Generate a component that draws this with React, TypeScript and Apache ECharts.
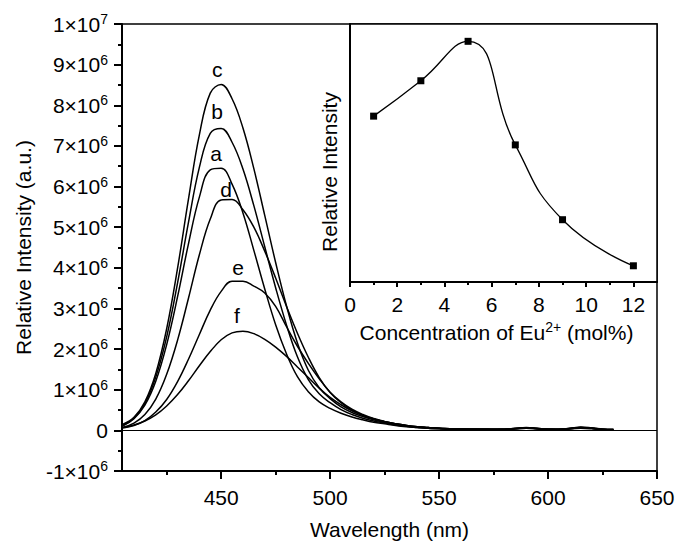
import React, { useEffect, useRef } from "react";
import * as echarts from "echarts";

// ---- Data (intensity in units of 10^6) ----
const wavelengths = [
  405, 410, 415, 420, 425, 430, 435, 440, 445, 450, 455, 460, 465, 470, 475, 480,
  485, 490, 495, 500, 505, 510, 515, 520, 525, 530, 535, 540, 545, 550, 555, 560,
  565, 570, 575, 580, 585, 590, 595, 600, 605, 610, 615, 620, 625, 630,
];

const curveA = [
  0.12, 0.29, 0.62, 1.21, 2.11, 3.29, 4.59, 5.74, 6.41, 6.45, 6.06, 5.35, 4.43, 3.48, 2.60, 1.88,
  1.32, 0.95, 0.70, 0.54, 0.42, 0.33, 0.26, 0.20, 0.16, 0.12, 0.09, 0.07, 0.05, 0.04,
  0.03, 0.03, 0.03, 0.02, 0.02, 0.02, 0.04, 0.06, 0.04, 0.02, 0.02, 0.04, 0.06, 0.05, 0.02, 0.01,
];
const curveB = [
  0.12, 0.30, 0.66, 1.31, 2.30, 3.63, 5.12, 6.47, 7.31, 7.43, 7.09, 6.43, 5.53, 4.52, 3.51, 2.59,
  1.81, 1.25, 0.90, 0.68, 0.51, 0.39, 0.30, 0.23, 0.18, 0.13, 0.10, 0.07, 0.05, 0.04,
  0.04, 0.03, 0.03, 0.03, 0.02, 0.03, 0.04, 0.06, 0.04, 0.03, 0.02, 0.04, 0.07, 0.05, 0.03, 0.02,
];
const curveC = [
  0.15, 0.32, 0.70, 1.40, 2.50, 3.99, 5.69, 7.27, 8.30, 8.51, 8.16, 7.44, 6.44, 5.29, 4.13, 3.06,
  2.15, 1.48, 1.05, 0.78, 0.58, 0.44, 0.34, 0.26, 0.20, 0.15, 0.11, 0.08, 0.06, 0.05,
  0.04, 0.04, 0.03, 0.03, 0.03, 0.03, 0.05, 0.07, 0.05, 0.03, 0.03, 0.05, 0.08, 0.06, 0.03, 0.02,
];
const curveD = [
  0.08, 0.18, 0.39, 0.77, 1.38, 2.22, 3.25, 4.32, 5.20, 5.67, 5.68, 5.43, 5.00, 4.41, 3.75, 3.05,
  2.39, 1.80, 1.30, 0.93, 0.68, 0.50, 0.37, 0.28, 0.21, 0.16, 0.12, 0.09, 0.07, 0.05,
  0.04, 0.04, 0.03, 0.03, 0.03, 0.03, 0.05, 0.06, 0.05, 0.03, 0.03, 0.05, 0.07, 0.06, 0.03, 0.02,
];
const curveE = [
  0.06, 0.12, 0.24, 0.45, 0.76, 1.20, 1.75, 2.36, 2.96, 3.42, 3.67, 3.67, 3.55, 3.38, 3.05, 2.55,
  2.07, 1.65, 1.27, 0.94, 0.70, 0.52, 0.39, 0.29, 0.22, 0.16, 0.12, 0.09, 0.07, 0.05,
  0.04, 0.03, 0.03, 0.03, 0.03, 0.03, 0.04, 0.05, 0.04, 0.03, 0.03, 0.04, 0.06, 0.05, 0.03, 0.02,
];
const curveF = [
  0.07, 0.13, 0.23, 0.38, 0.60, 0.88, 1.22, 1.59, 1.94, 2.23, 2.40, 2.44, 2.38, 2.24, 2.05, 1.82,
  1.56, 1.30, 1.04, 0.81, 0.63, 0.48, 0.37, 0.28, 0.21, 0.16, 0.12, 0.09, 0.07, 0.05,
  0.04, 0.03, 0.03, 0.03, 0.02, 0.02, 0.04, 0.05, 0.04, 0.03, 0.02, 0.04, 0.05, 0.04, 0.02, 0.01,
];
const curveNames = ["a", "b", "c", "d", "e", "f"];

// inset: peak intensity vs Eu2+ concentration
const concentration = [1, 3, 5, 7, 9, 12];
const insetIntensity = [6.5, 7.46, 8.53, 5.72, 3.69, 2.44];

// tick values
const xMajorTicks = [450, 500, 550, 600, 650];
const xMinorTicks = [425, 475, 525, 575, 625];
const insetMajorTicks = [0, 2, 4, 6, 8, 10, 12];
const insetMinorTicks = [1, 3, 5, 7, 9, 11];

// label offsets (styling only)
const labelOffsets: Record<string, number[]> = {
  a: [-5, -15],
  b: [-4, -17],
  c: [-4, -15],
  d: [-6, -10],
  e: [6, -14],
  f: [-6, -16],
};

const FONT = "'Liberation Sans', Arial, Helvetica, sans-serif";
const FS = 21;

export default function App() {
  const ref = useRef<HTMLDivElement>(null);

  useEffect(() => {
    if (!ref.current) return;
    const chart = echarts.init(ref.current, null, { renderer: "svg" });
    const curves = [curveA, curveB, curveC, curveD, curveE, curveF];

    const lineSeries = curves.map((vals, i) => {
      const name = curveNames[i];
      const s: any = {
        name,
        type: "line",
        xAxisIndex: 0,
        yAxisIndex: 0,
        data: wavelengths.map((w, k) => [w, vals[k]]),
        showSymbol: false,
        smooth: 0.4,
        lineStyle: { color: "#000", width: 1.5 },
        itemStyle: { color: "#000" },
        z: 3,
        markPoint: {
          symbol: "circle",
          symbolSize: 0.1,
          itemStyle: { color: "rgba(0,0,0,0)" },
          silent: true,
          label: {
            show: true,
            position: "inside",
            formatter: name,
            fontSize: FS,
            fontFamily: FONT,
            color: "#000",
            offset: labelOffsets[name],
          },
          data: [{ type: "max" }],
        },
      };
      if (i === 0) {
        s.markLine = {
          silent: true,
          symbol: "none",
          label: { show: false },
          lineStyle: { color: "#000", width: 1, type: "solid" },
          data: [{ yAxis: 0 }],
        };
      }
      return s;
    });

    const axisLineStyle = { color: "#000", width: 2 };
    const labelStyle = { fontSize: FS, fontFamily: FONT, color: "#000" };

    const option: any = {
      animation: false,
      textStyle: { fontFamily: FONT, color: "#000" },
      grid: [
        {
          left: 122,
          right: 21,
          top: 24,
          bottom: 72,
          show: true,
          borderColor: "#000",
          borderWidth: 1.5,
          backgroundColor: "transparent",
        },
        {
          left: 350,
          right: 21,
          top: 24,
          bottom: 263,
          show: true,
          borderColor: "#000",
          borderWidth: 1.5,
          backgroundColor: "#fff",
        },
      ],
      xAxis: [
        {
          type: "value",
          gridIndex: 0,
          min: 404.5,
          max: 650,
          position: "bottom",
          name: "Wavelength (nm)",
          nameLocation: "middle",
          nameGap: 48,
          nameTextStyle: labelStyle,
          axisLine: { onZero: false, lineStyle: axisLineStyle },
          axisTick: { customValues: xMajorTicks, length: 8, lineStyle: axisLineStyle },
          axisLabel: { ...labelStyle, customValues: xMajorTicks, margin: 16 },
          splitLine: { show: false },
        },
        {
          type: "value",
          gridIndex: 0,
          min: 404.5,
          max: 650,
          position: "bottom",
          axisLine: { show: false, onZero: false },
          axisTick: { customValues: xMinorTicks, length: 4, lineStyle: axisLineStyle },
          axisLabel: { show: false },
          splitLine: { show: false },
        },
        {
          type: "value",
          gridIndex: 1,
          min: 0,
          max: 13,
          position: "bottom",
          name: "{n|Concentration of Eu}{s|2+}{n| (mol%)}",
          nameLocation: "middle",
          nameGap: 38,
          nameTextStyle: {
            ...labelStyle,
            padding: [0, 14, 0, 0],
            rich: {
              n: { fontSize: FS, fontFamily: FONT, color: "#000" },
              s: { fontSize: 14, fontFamily: FONT, color: "#000", padding: [0, 0, 10, 0] },
            },
          },
          axisLine: { onZero: false, lineStyle: axisLineStyle },
          axisTick: { customValues: insetMajorTicks, length: 5, lineStyle: axisLineStyle },
          axisLabel: { ...labelStyle, customValues: insetMajorTicks, margin: 12 },
          splitLine: { show: false },
        },
        {
          type: "value",
          gridIndex: 1,
          min: 0,
          max: 13,
          position: "bottom",
          axisLine: { show: false, onZero: false },
          axisTick: { customValues: insetMinorTicks, length: 3, lineStyle: axisLineStyle },
          axisLabel: { show: false },
          splitLine: { show: false },
        },
      ],
      yAxis: [
        {
          type: "value",
          gridIndex: 0,
          min: -1,
          max: 10,
          interval: 1,
          name: "Relative Intensity (a.u.)",
          nameLocation: "middle",
          nameGap: 88,
          nameTextStyle: labelStyle,
          axisLine: { onZero: false, lineStyle: axisLineStyle },
          axisTick: { length: 8, lineStyle: axisLineStyle },
          minorTick: { show: true, splitNumber: 2, length: 4, lineStyle: axisLineStyle },
          axisLabel: {
            ...labelStyle,
            margin: 14,
            formatter: (v: number) =>
              v === 0 ? "0" : v === 10 ? "{m|1×10}{s|7}" : `{m|${v}×10}{s|6}`,
            rich: {
              m: { fontSize: FS, fontFamily: FONT, color: "#000" },
              s: { fontSize: 14, fontFamily: FONT, color: "#000", padding: [0, 0, 10, 0] },
            },
          },
          splitLine: { show: false },
          minorSplitLine: { show: false },
        },
        {
          type: "value",
          gridIndex: 1,
          min: 2,
          max: 9,
          axisLine: { onZero: false, lineStyle: axisLineStyle },
          axisTick: { show: false },
          axisLabel: { show: false },
          splitLine: { show: false },
        },
      ],
      graphic: [
        {
          type: "text",
          x: 329,
          y: 172,
          rotation: Math.PI / 2,
          style: {
            text: "Relative Intensity",
            fontSize: FS,
            fontFamily: FONT,
            fill: "#000",
            textAlign: "center",
            textVerticalAlign: "middle",
          },
        },
      ],
      series: [
        ...lineSeries,
        {
          name: "inset",
          type: "line",
          xAxisIndex: 2,
          yAxisIndex: 1,
          data: concentration.map((c, i) => [c, insetIntensity[i]]),
          symbol: "rect",
          symbolSize: 7,
          smooth: 0.5,
          lineStyle: { color: "#000", width: 1.3 },
          itemStyle: { color: "#000" },
          z: 5,
        },
      ],
    };

    chart.setOption(option);
    return () => chart.dispose();
  }, []);

  return (
    <div
      ref={ref}
      style={{ position: "fixed", left: 0, top: 0, width: 678, height: 545, background: "#fff" }}
    />
  );
}
